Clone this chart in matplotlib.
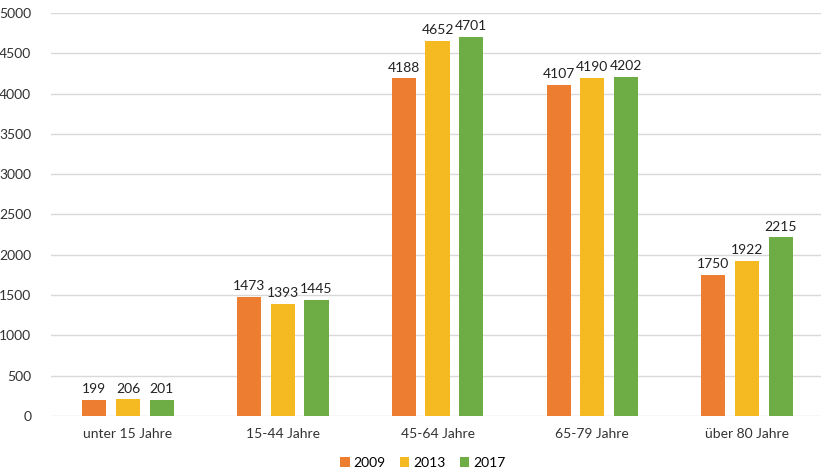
import matplotlib
matplotlib.use("Agg")
import matplotlib.pyplot as plt
import numpy as np

categories = ["unter 15 Jahre", "15-44 Jahre", "45-64 Jahre", "65-79 Jahre", "über 80 Jahre"]
years = ["2009", "2013", "2017"]
v2009 = [199, 1473, 4188, 4107, 1750]
v2013 = [206, 1393, 4652, 4190, 1922]
v2017 = [201, 1445, 4701, 4202, 2215]
yticks = [0, 500, 1000, 1500, 2000, 2500, 3000, 3500, 4000, 4500, 5000]

colors = ["#ED7D31", "#F5B921", "#6EAD45"]

plt.rcParams['font.family'] = ['Lato', 'DejaVu Sans']

fig = plt.figure(figsize=(8.21, 4.74), dpi=100)
ax = fig.add_axes([0.0617, 0.1224, 0.9425, 0.8502])

x = np.arange(len(categories))
width = 0.156
offs = [-0.218, 0, 0.218]
for vals, col, off, lab in zip([v2009, v2013, v2017], colors, offs, years):
    bars = ax.bar(x + off, vals, width, color=col, label=lab, zorder=3)
    for b, v in zip(bars, vals):
        ax.text(b.get_x() + b.get_width() / 2, v + 60, str(v), ha='center', va='bottom',
                fontsize=10, color='#222222')

ax.set_xlim(-0.5, len(categories) - 0.5)
ax.set_ylim(0, 5000)
ax.set_yticks(yticks)
ax.set_xticks(x)
ax.set_xticklabels(categories, fontsize=10, color='#333333')
ax.tick_params(axis='y', labelsize=10, labelcolor='#333333', length=0, pad=14)
ax.tick_params(axis='x', length=0, pad=9)
ax.grid(axis='y', color='#D9D9D9', linewidth=1, zorder=0)
for s in ax.spines.values():
    s.set_visible(False)

fig.legend(loc='lower center', bbox_to_anchor=(0.515, -0.015), ncol=3, frameon=False,
           fontsize=10, handlelength=0.7, handleheight=0.7, handletextpad=0.3,
           columnspacing=1.0)

fig.savefig("out.png", dpi=100)
